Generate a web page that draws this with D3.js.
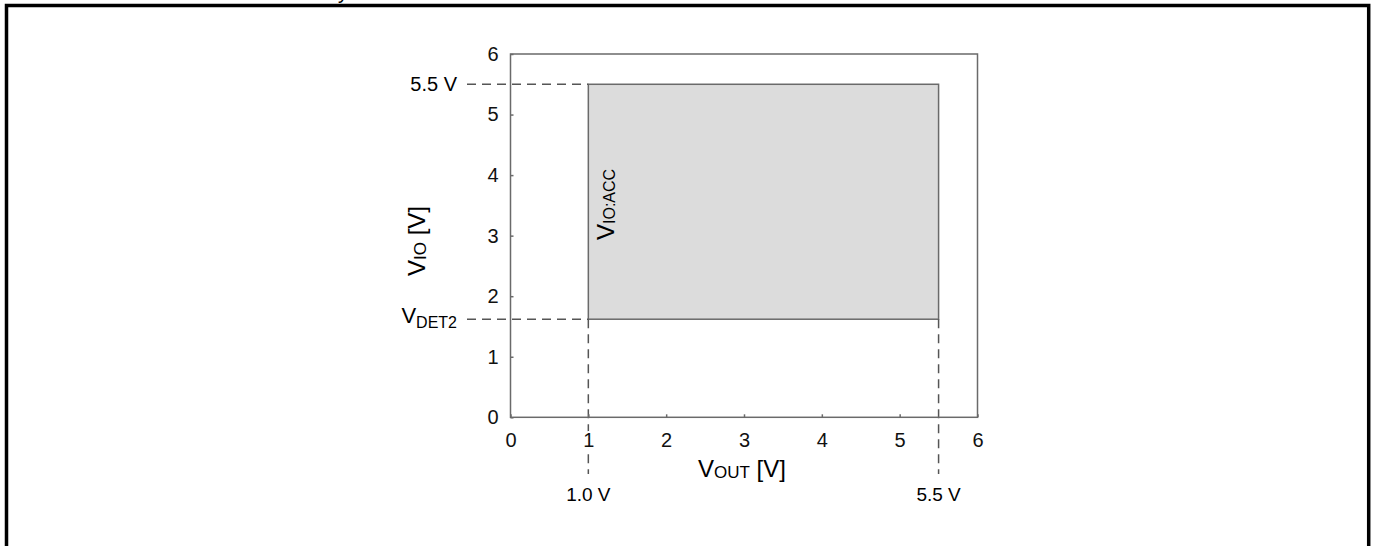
<!DOCTYPE html>
<html>
<head>
<meta charset="utf-8">
<script src="https://cdn.jsdelivr.net/npm/d3@7"></script>
<style>
  html, body { margin: 0; padding: 0; background: #fff; }
  svg { display: block; font-family: "Liberation Sans", Arial, sans-serif; }
</style>
</head>
<body>
<div id="chart"></div>
<script>
// ---------- data ----------
const xTicks = [0, 1, 2, 3, 4, 5, 6];
const yTicks = [0, 1, 2, 3, 4, 5, 6];
const xDomain = [0, 6];
const yDomain = [0, 6];
const voutRange = [1.0, 5.5];   // VOUT limits of the accuracy region
const vioRange = [1.62, 5.5];   // VDET2 .. 5.5 V
const voutLabels = ["1.0 V", "5.5 V"];

// ---------- setup ----------
const width = 1375, height = 546;
const gray = "#6a6a6a";

const svg = d3.select("#chart").append("svg")
  .attr("width", width)
  .attr("height", height);

const x = d3.scaleLinear().domain(xDomain).range([510.5, 977.5]);
const y = d3.scaleLinear().domain(yDomain).range([417.3, 54]);

// page frame (cut off at the bottom)
svg.append("path")
  .attr("d", "M6.5,546 V5.5 H1368.7 V546")
  .attr("fill", "none")
  .attr("stroke", "#000")
  .attr("stroke-width", 3.5);

// caption fragment above the frame
svg.append("text")
  .attr("x", 348).attr("y", -1)
  .attr("text-anchor", "end")
  .attr("font-size", 20)
  .text("Accuracy");

// accuracy region
svg.append("rect")
  .attr("x", x(voutRange[0]))
  .attr("y", y(vioRange[1]))
  .attr("width", x(voutRange[1]) - x(voutRange[0]))
  .attr("height", y(vioRange[0]) - y(vioRange[1]))
  .attr("fill", "#dcdcdc")
  .attr("stroke", gray)
  .attr("stroke-width", 1.5);

// dashed guides
const guides = svg.append("g")
  .attr("stroke", "#555")
  .attr("stroke-width", 1.5)
  .attr("stroke-dasharray", "9,6")
  .attr("fill", "none");

vioRange.forEach(v => {
  guides.append("line")
    .attr("x1", 467).attr("x2", x(voutRange[0]))
    .attr("y1", y(v)).attr("y2", y(v));
});
voutRange.forEach(v => {
  guides.append("line")
    .attr("x1", x(v)).attr("x2", x(v))
    .attr("y1", y(vioRange[0])).attr("y2", 474);
});

// axes frame
svg.append("rect")
  .attr("x", x(0)).attr("y", y(6))
  .attr("width", x(6) - x(0))
  .attr("height", y(0) - y(6))
  .attr("fill", "none")
  .attr("stroke", gray)
  .attr("stroke-width", 1.5);

const yAxis = svg.append("g")
  .attr("transform", `translate(${x(0)},0)`)
  .call(d3.axisLeft(y).tickValues(yTicks).tickSize(-3).tickPadding(12).tickFormat(d3.format("d")));

const xAxis = svg.append("g")
  .attr("transform", `translate(0,${y(0)})`)
  .call(d3.axisBottom(x).tickValues(xTicks).tickSize(-3).tickPadding(16).tickFormat(d3.format("d")));

[yAxis, xAxis].forEach(g => {
  g.select(".domain").remove();
  g.selectAll(".tick line").attr("stroke", gray).attr("stroke-width", 1.5);
  g.selectAll(".tick text")
    .attr("font-size", 20)
    .attr("font-family", "Liberation Sans, Arial, sans-serif")
    .attr("fill", "#111")
    .attr("stroke", "#fff")
    .attr("stroke-width", 4)
    .attr("paint-order", "stroke");
});

// left annotations
svg.append("text")
  .attr("x", 457).attr("y", y(vioRange[1]))
  .attr("dy", "0.35em")
  .attr("text-anchor", "end")
  .attr("font-size", 20)
  .text("5.5 V");

const vdet = svg.append("text")
  .attr("x", 457).attr("y", y(vioRange[0]) + 4)
  .attr("text-anchor", "end")
  .attr("font-size", 22);
vdet.append("tspan").text("V");
vdet.append("tspan").attr("font-size", 16).attr("dy", 5).text("DET2");

// bottom annotations
svg.append("g").selectAll("text")
  .data(voutRange)
  .join("text")
  .attr("x", d => x(d))
  .attr("y", 501)
  .attr("text-anchor", "middle")
  .attr("font-size", 19)
  .text((d, i) => voutLabels[i]);

// axis titles
const xTitle = svg.append("text")
  .attr("x", 698).attr("y", 477)
  .attr("font-size", 24);
xTitle.append("tspan").text("V");
xTitle.append("tspan").attr("font-size", 17).attr("dy", 1).text("OUT");
xTitle.append("tspan").attr("dy", -1).text(" [V]");

const yTitle = svg.append("text")
  .attr("transform", "translate(425,276) rotate(-90)")
  .attr("font-size", 24);
yTitle.append("tspan").text("V");
yTitle.append("tspan").attr("font-size", 17).attr("dy", 1).text("IO");
yTitle.append("tspan").attr("dy", -1).text(" [V]");

// region label
const accLabel = svg.append("text")
  .attr("transform", "translate(614,240) rotate(-90)")
  .attr("font-size", 24);
accLabel.append("tspan").text("V");
accLabel.append("tspan").attr("font-size", 16).attr("dy", 1).text("IO:ACC");
</script>
</body>
</html>
